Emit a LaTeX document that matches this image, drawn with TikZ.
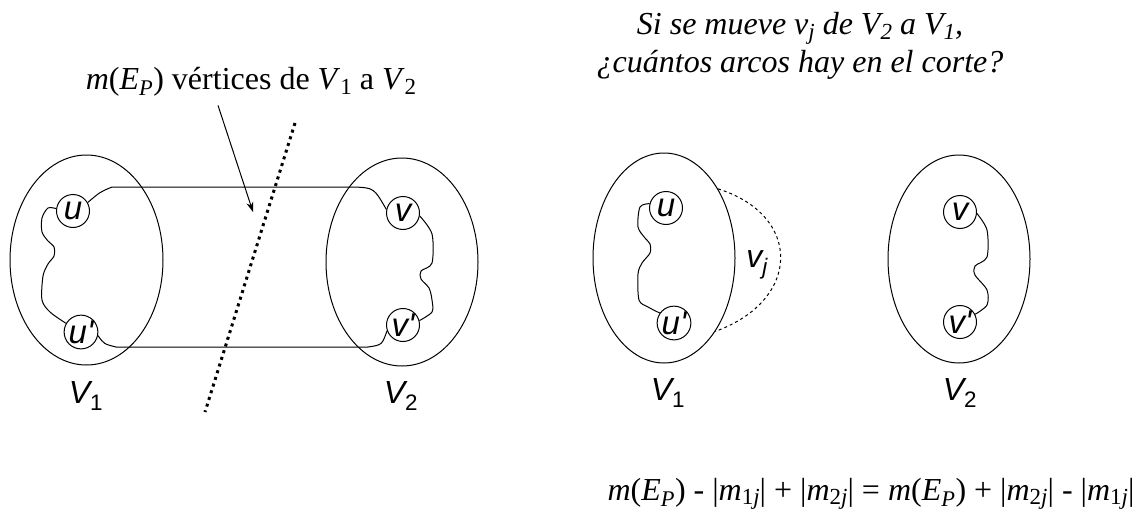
\documentclass[tikz,border=0pt]{standalone}
\usepackage{fontspec}
\setmainfont{Liberation Serif}
\newfontfamily\arialfont{Liberation Sans}
\usetikzlibrary{arrows.meta,shapes.geometric}
\newcommand{\sbs}[1]{\raisebox{-0.3ex}{\fontsize{23}{23}\selectfont #1}}

\begin{document}
\begin{tikzpicture}[x=1pt, y=-1pt, >=Stealth, line width=1pt,
  conj/.style 2 args={draw, ellipse, inner sep=0pt, minimum width=#1, minimum height=#2},
  vert/.style={draw, circle, inner sep=0pt, minimum size=33pt, font=\fontsize{33}{33}\selectfont\arialfont\itshape},
  sans/.style={font=\fontsize{32}{34}\selectfont\arialfont\itshape},
  serif/.style={font=\fontsize{32}{38}\selectfont},
  corte/.style={line width=3pt, dash pattern=on 3pt off 4pt}]
\useasboundingbox (0,0) rectangle (1140,519);
% conjuntos de la izquierda
\node[conj={153}{210}] (a1) at (86.5,260) {};
\node[conj={152}{208}] (a2) at (402,262) {};
\node[vert] (u) at (73,211) {u};
\node[vert] (up) at (81,332) {u'};
\node[vert] (v) at (403,213) {v};
\node[vert] (vp) at (403,325) {v'};
\node[sans] (la1) at (86,396) {V\textsubscript{\upshape 1}};
\node[sans] (la2) at (401,396) {V\textsubscript{\upshape 2}};
% caminos
\draw (u.30) .. controls (100,192) .. (112,187) -- (355,187) .. controls (374,188) .. (v.168);
\draw (up.-12) .. controls (104,344) .. (116,347) -- (368,347) .. controls (382,345) .. (vp.200);
\draw plot[smooth, tension=0.5] coordinates {(u.172) (48,208) (42,218) (42,232) (48,241) (54,247) (54,256) (48,264) (43,276) (42,300) (50,312) (up.150)};
\draw plot[smooth, tension=0.5] coordinates {(v.-10) (432,234) (432,263) (421,271) (421,279) (429,288) (432,300) (432,312) (vp.15)};
% corte
\coordinate (ct) at (295,123);
\coordinate (cb) at (205,412);
\draw[corte] (ct) -- (cb);
\node[serif] (lbl) at (251,82) {\textit{m}(\textit{E}\textsubscript{\textit{P}}) vértices de \textit{V}\sbs{1} a \textit{V}\sbs{2}};
\coordinate (tip) at (253,212);
\draw[->, >={Stealth[length=10pt,width=7pt]}] ([xshift=-33pt,yshift=-5pt]lbl.south) -- (tip);
% conjuntos de la derecha
\node[conj={142}{210}] (b1) at (664,258) {};
\node[conj={142}{208}] (b2) at (959,259) {};
\node[vert] (bu) at (666,208) {u};
\node[vert] (bup) at (674,323) {u'};
\node[vert] (bv) at (960,212) {v};
\node[vert] (bvp) at (960,322) {v'};
\node[sans] (lb1) at (668,393) {V\textsubscript{\upshape 1}};
\node[sans] (lb2) at (960,393) {V\textsubscript{\upshape 2}};
\draw plot[smooth, tension=0.5] coordinates {(bu.165) (640,207) (638,227) (645,238) (650,244) (650,253) (642,263) (638,274) (639,300) (648,307) (bup.145)};
\draw plot[smooth, tension=0.5] coordinates {(bv.-5) (987,230) (987,257) (975,266) (975,275) (987,290) (987,305) (bvp.27)};
\draw[dashed] (b1.52) .. controls (802,215) and (802,300) .. (b1.-55);
\node[sans] (vj) at (757,265) {v\textsubscript{j}};
% pregunta y cuenta
\node[align=center, font=\fontsize{32}{38}\selectfont\itshape] (preg) at (800,46)
  {Si se mueve v\sbs{j} de V\sbs{2} a V\sbs{1},\\ ¿cuántos arcos hay en el corte?};
\node[serif] (cuenta) at (871,494) {\textit{m}(\textit{E}\textsubscript{\textit{P}}) - |\textit{m}\sbs{1\textit{j}}| + |\textit{m}\sbs{2\textit{j}}| = \textit{m}(\textit{E}\textsubscript{\textit{P}}) + |\textit{m}\sbs{2\textit{j}}| - |\textit{m}\sbs{1\textit{j}}|};
\end{tikzpicture}
\end{document}
